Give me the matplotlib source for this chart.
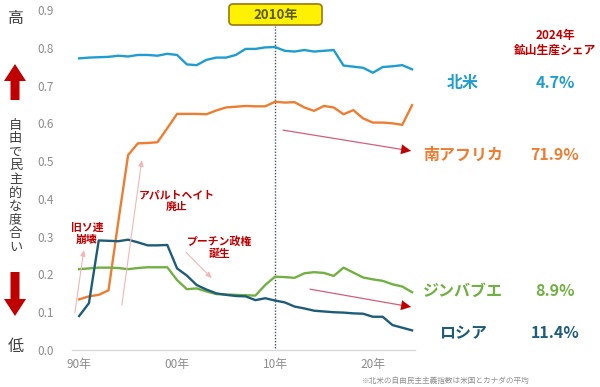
import matplotlib
matplotlib.use("Agg")
import matplotlib.pyplot as plt
from matplotlib.patches import Polygon, FancyBboxPatch
import numpy as np

plt.rcParams['font.family'] = ['Noto Sans CJK JP', 'DejaVu Sans']

years = list(range(1990, 2025))
north_america = [0.772, 0.774, 0.775, 0.776, 0.779, 0.777, 0.781, 0.781, 0.779, 0.784,
                 0.781, 0.756, 0.754, 0.768, 0.774, 0.774, 0.781, 0.797, 0.797, 0.801,
                 0.802, 0.792, 0.790, 0.794, 0.790, 0.792, 0.794, 0.753, 0.750, 0.747,
                 0.734, 0.749, 0.751, 0.754, 0.743]
south_africa = [0.134, 0.142, 0.146, 0.158, 0.340, 0.516, 0.547, 0.548, 0.550, 0.587,
                0.625, 0.625, 0.625, 0.624, 0.634, 0.642, 0.644, 0.646, 0.645, 0.645,
                0.657, 0.655, 0.656, 0.642, 0.633, 0.646, 0.642, 0.624, 0.635, 0.613,
                0.602, 0.602, 0.600, 0.596, 0.648]
zimbabwe = [0.214, 0.216, 0.218, 0.218, 0.217, 0.214, 0.217, 0.219, 0.219, 0.219,
            0.185, 0.161, 0.163, 0.155, 0.148, 0.147, 0.146, 0.145, 0.144, 0.172,
            0.194, 0.193, 0.191, 0.203, 0.206, 0.204, 0.196, 0.218, 0.205, 0.192,
            0.187, 0.183, 0.174, 0.168, 0.153]
russia = [0.090, 0.124, 0.290, 0.289, 0.288, 0.292, 0.285, 0.277, 0.277, 0.278,
          0.216, 0.197, 0.172, 0.160, 0.150, 0.146, 0.143, 0.142, 0.132, 0.137,
          0.131, 0.126, 0.115, 0.110, 0.104, 0.102, 0.100, 0.099, 0.097, 0.096,
          0.088, 0.088, 0.066, 0.059, 0.052]

series_names = ['北米', '南アフリカ', 'ジンバブエ', 'ロシア']
shares = ['4.7%', '71.9%', '8.9%', '11.4%']
colors = ['#1F9DD0', '#ED7D31', '#72B043', '#1F5C79']

xtick_years = [1990, 2000, 2010, 2020]
xtick_labels = ['90年', '00年', '10年', '20年']
yticks = [0.0, 0.1, 0.2, 0.3, 0.4, 0.5, 0.6, 0.7, 0.8, 0.9]

RED = '#C00000'
GRAY = '#8C8C8C'

fig = plt.figure(figsize=(6.0, 3.87), dpi=100)
ax = fig.add_axes([72/600, 37/387, 343/600, 340/387])

for vals, c in zip([north_america, south_africa, zimbabwe, russia], colors):
    ax.plot(years, vals, color=c, lw=1.7, solid_joinstyle='round', zorder=3)

ax.set_xlim(1989.27, 2024.3)
ax.set_ylim(0, 0.9)
ax.set_yticks(yticks)
ax.set_yticklabels([f'{v:.1f}' for v in yticks], color=GRAY, fontsize=8.5)
ax.set_xticks(xtick_years)
ax.set_xticklabels(xtick_labels, color=GRAY, fontsize=8.5)
ax.tick_params(axis='both', length=0)
ax.tick_params(axis='y', pad=13)
ax.tick_params(axis='x', pad=6)
for s in ['top', 'right', 'left']:
    ax.spines[s].set_visible(False)
ax.spines['bottom'].set_color('#D9D9D9')
ax.spines['bottom'].set_linewidth(1.0)
ax.patch.set_alpha(0)

# 2010 dotted line
ax.plot([2010, 2010], [0.005, 0.857], color='#44546A', lw=1.0, ls=(0, (1, 1.2)), zorder=2)

# event annotations
ann_kw = dict(ha='center', va='center', fontsize=7.8, fontweight='bold', color=RED,
              linespacing=1.15)
ax.text(1990.8, 0.307, '旧ソ連\n崩壊', **ann_kw)
ax.text(2000.0, 0.393, 'アパルトヘイト\n廃止', **ann_kw)
ax.text(2004.3, 0.272, 'プーチン政権\n誕生', **ann_kw)

pink = '#F2B6B6'
for (x0, y0), (x1, y1) in [((1989.56, 0.098), (1990.48, 0.265)),
                           ((1994.36, 0.119), (1996.40, 0.503)),
                           ((2000.90, 0.259), (2003.55, 0.190))]:
    ax.annotate('', xy=(x1, y1), xytext=(x0, y0),
                arrowprops=dict(arrowstyle='-|>,head_length=0.35,head_width=0.15',
                                color=pink, lw=0.8, shrinkA=0, shrinkB=0))

# trend arrows
for (x0, y0), (x1, y1) in [((2010.82, 0.582), (2023.9, 0.527)),
                           ((2013.57, 0.161), (2023.9, 0.114))]:
    ax.annotate('', xy=(x1, y1), xytext=(x0, y0),
                arrowprops=dict(arrowstyle='-', color='#D0607A', lw=0.9, shrinkA=0, shrinkB=6))
    ax.annotate('', xy=(x1, y1), xytext=(x1 - 1.2, y1 + 1.2 * (y0 - y1) / (x1 - x0)),
                arrowprops=dict(arrowstyle='-|>,head_length=0.7,head_width=0.35',
                                color=RED, lw=0.1, shrinkA=0, shrinkB=0))

# overlay in pixel coordinates for side decorations
ov = fig.add_axes([0, 0, 1, 1])
ov.set_xlim(0, 600)
ov.set_ylim(387, 0)
ov.axis('off')
ov.patch.set_alpha(0)

ov.add_patch(FancyBboxPatch((229, 4), 93, 21, boxstyle='round,pad=0,rounding_size=4',
                            fc='#FFF200', ec='#A08018', lw=1.3))
ov.text(275.5, 14.5, '2010年', ha='center', va='center', fontsize=9.5, fontweight='bold',
        color='#5A5A10')

ov.text(16, 18, '高', ha='center', va='center', fontsize=11.5, color='#404040')
ov.text(16, 347, '低', ha='center', va='center', fontsize=11.5, color='#404040')
ov.add_patch(Polygon([(15, 64), (26, 81), (19.5, 81), (19.5, 100), (10.5, 100), (10.5, 81), (4, 81)],
                     closed=True, fc=RED, ec='none'))
ov.add_patch(Polygon([(10.5, 272), (19.5, 272), (19.5, 299), (26, 299), (15, 316), (4, 299), (10.5, 299)],
                     closed=True, fc=RED, ec='none'))
vert = '自由で民主的な度合い'
for i, ch in enumerate(vert):
    ov.text(15.5, 125 + i * 13.6, ch, ha='center', va='center', fontsize=9.5, color='#404040')

ov.text(555, 35, '2024年', ha='center', va='center', fontsize=8.5, fontweight='bold', color=RED)
ov.text(555, 50, '鉱山生産シェア', ha='center', va='center', fontsize=8.5, fontweight='bold', color=RED)

label_y = [83, 155, 291, 333]
for name, share, c, yy in zip(series_names, shares, colors, label_y):
    ov.text(463, yy, name, ha='center', va='center', fontsize=11.5, fontweight='bold', color=c)
    ov.text(555, yy, share, ha='center', va='center', fontsize=11.5, fontweight='bold', color=c)

ov.text(530, 381, '※北米の自由民主主義指数は米国とカナダの平均', ha='right', va='center',
        fontsize=5.5, color='#909090')

fig.savefig('out.png', dpi=100)
